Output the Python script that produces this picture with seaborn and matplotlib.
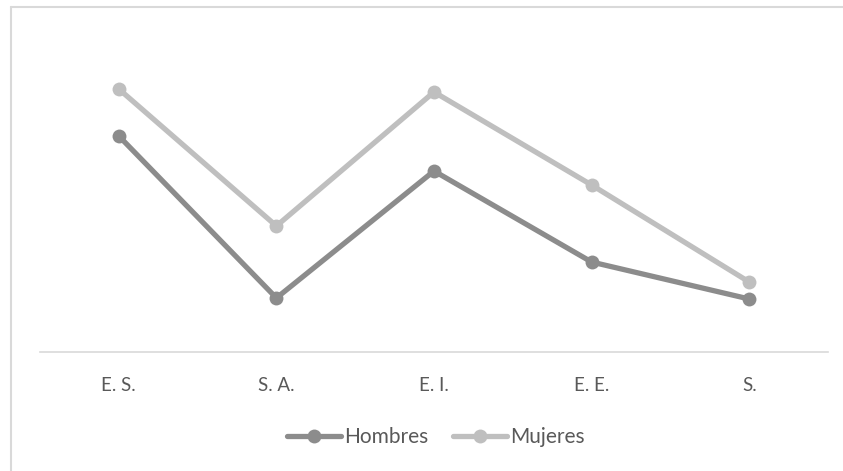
import pandas as pd
import seaborn as sns
import matplotlib.pyplot as plt
from matplotlib.lines import Line2D

categorias = ['E. S.', 'S. A.', 'E. I.', 'E. E.', 'S.']
hombres = [216, 54, 181, 90, 53]
mujeres = [263, 126, 260, 167, 70]

df = pd.DataFrame({
    'cat': categorias * 2,
    'valor': hombres + mujeres,
    'grupo': ['Hombres'] * 5 + ['Mujeres'] * 5,
})

sns.set_style('white')
plt.rcParams['font.family'] = ['Lato', 'DejaVu Sans']

fig = plt.figure(figsize=(8.43, 4.71), dpi=100)
ax = fig.add_axes([40 / 843, 119 / 471, 788 / 843, 300 / 471])

sns.lineplot(data=df, x='cat', y='valor', hue='grupo', sort=False,
             palette={'Hombres': '#8c8c8c', 'Mujeres': '#bfbfbf'},
             marker='o', markersize=10, markeredgewidth=0,
             linewidth=3.8, ax=ax)

ax.set_xlim(-0.5, 4.5)
ax.set_ylim(0, 300)
ax.set_xlabel('')
ax.set_ylabel('')
ax.set_yticks([])
for s in ['top', 'left', 'right']:
    ax.spines[s].set_visible(False)
ax.spines['bottom'].set_color('#d9d9d9')
ax.spines['bottom'].set_linewidth(1.2)
ax.tick_params(axis='x', length=0, pad=18, labelsize=13.5, labelcolor='#595959')

handles, labels = ax.get_legend_handles_labels()
ax.legend(handles, labels, loc='center', bbox_to_anchor=(436 / 843, 34 / 471),
          bbox_transform=fig.transFigure, ncol=2, frameon=False,
          fontsize=15, labelcolor='#595959', handlelength=2.6,
          handletextpad=0.15, columnspacing=1.2)

# chart area border: only top and left edges show
top = (471 - 7) / 471
left = 11 / 843
fig.add_artist(Line2D([left, 1], [top, top], transform=fig.transFigure,
                      color='#d9d9d9', linewidth=1.5))
fig.add_artist(Line2D([left, left], [0, top], transform=fig.transFigure,
                      color='#d9d9d9', linewidth=1.5))

fig.savefig('out.png', dpi=100)
